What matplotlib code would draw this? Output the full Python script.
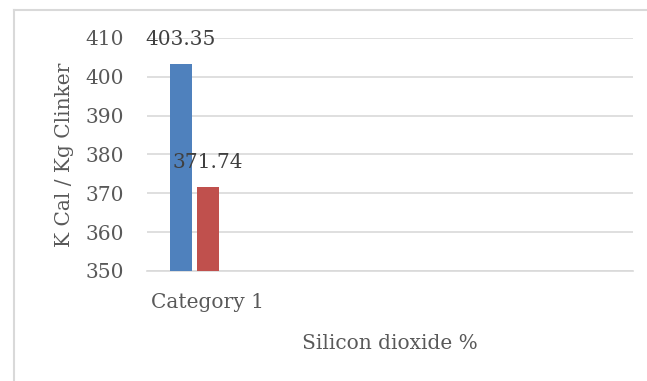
import matplotlib
matplotlib.use("Agg")
import matplotlib.pyplot as plt
import numpy as np
from matplotlib.lines import Line2D

# Chart data
categories = ["Category 1", "", "", ""]
series_1 = [403.35, np.nan, np.nan, np.nan]
series_2 = [371.74, np.nan, np.nan, np.nan]
series_3 = [np.nan, np.nan, np.nan, np.nan]
y_ticks = [350, 360, 370, 380, 390, 400, 410]

TEXT = "#595959"
GRID = "#D9D9D9"
COLORS = ["#4F81BD", "#C0504D", "#9BBB59"]
FS = 14.5

plt.rcParams["font.family"] = ["DejaVu Serif"]
plt.rcParams["font.size"] = FS

W, H = 647, 381
fig = plt.figure(figsize=(W / 100, H / 100), dpi=100)

# chart-area frame (left and top edges)
fx, fy = 13.5 / W, (H - 9.5) / H
fig.add_artist(Line2D([fx, fx], [0, fy], transform=fig.transFigure,
                      color=GRID, linewidth=1.5))
fig.add_artist(Line2D([fx, 1], [fy, fy], transform=fig.transFigure,
                      color=GRID, linewidth=1.5))

ax = fig.add_axes([147 / W, (H - 271) / H, (633 - 147) / W, (271 - 38) / H])

x = np.arange(len(categories))
px_per_unit = (633 - 147) / len(categories)
bar_w = 22 / px_per_unit
step = 27 / px_per_unit
all_series = [series_1, series_2, series_3]
for i, vals in enumerate(all_series):
    offs = (i - 1) * step
    ax.bar(x + offs, vals, width=bar_w, color=COLORS[i], zorder=3)
    for xi, v in zip(x + offs, vals):
        if not np.isnan(v):
            ax.annotate(f"{v:.2f}", (xi, v), xytext=(0, 17.5),
                        textcoords="offset points", ha="center", va="center",
                        color="#404040", fontsize=FS, zorder=4,
                        annotation_clip=False)

ax.set_xlim(-0.5, len(categories) - 0.5)
ax.set_ylim(y_ticks[0], y_ticks[-1])
ax.set_yticks(y_ticks)
ax.set_xticks(x)
ax.set_xticklabels(categories)
ax.yaxis.grid(True, color=GRID, linewidth=1.2, zorder=0)
ax.set_axisbelow(True)
for s in ["top", "right", "left"]:
    ax.spines[s].set_visible(False)
ax.spines["bottom"].set_color(GRID)
ax.spines["bottom"].set_linewidth(1.2)
ax.tick_params(axis="both", length=0, colors=TEXT, labelsize=FS)
ax.tick_params(axis="y", pad=16.5)
ax.tick_params(axis="x", pad=16)

ax.set_ylabel("K Cal / Kg Clinker", color=TEXT, fontsize=FS, labelpad=8)
ax.set_xlabel("Silicon dioxide %", color=TEXT, fontsize=FS, labelpad=16)

fig.savefig("out.png", dpi=100)
